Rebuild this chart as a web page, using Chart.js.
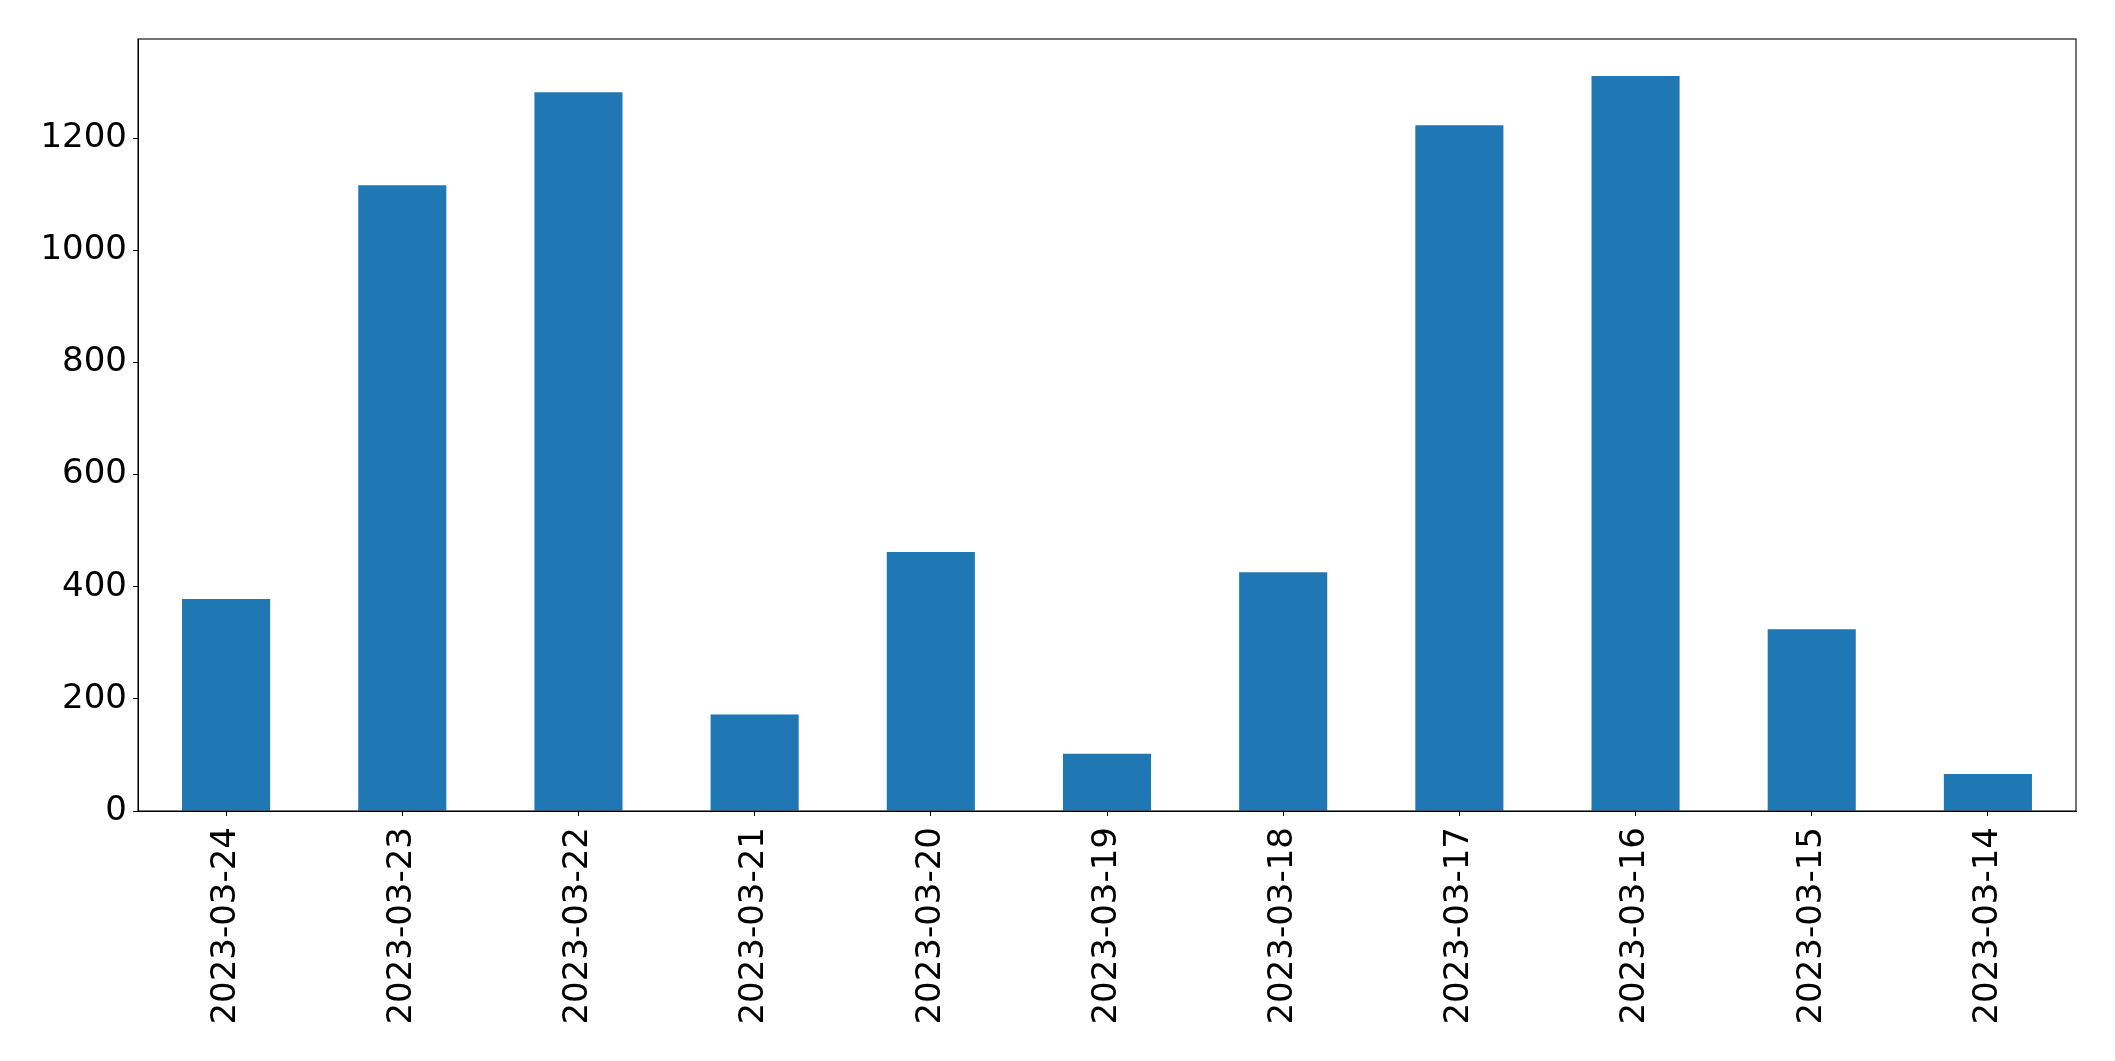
<!DOCTYPE html>
<html>
<head>
<meta charset="utf-8">
<script src="https://cdn.jsdelivr.net/npm/chart.js@4"></script>
<style>
  html, body { margin: 0; padding: 0; background: #fff; }
  #wrap { width: 2115px; height: 1061px; position: relative; }
</style>
</head>
<body>
<div id="wrap"><canvas id="grafico"></canvas></div>
<script>
  const dias = ['2023-03-24', '2023-03-23', '2023-03-22', '2023-03-21', '2023-03-20', '2023-03-19',
                '2023-03-18', '2023-03-17', '2023-03-16', '2023-03-15', '2023-03-14'];
  const valores = [378, 1116, 1282, 172, 462, 102, 426, 1223, 1311, 324, 66];
  const yTicks = [0, 200, 400, 600, 800, 1000, 1200];
  const yMax = 1377;

  // moldura completa em volta da area do grafico
  const moldura = {
    id: 'moldura',
    afterDraw(chart) {
      const a = chart.chartArea;
      const c = chart.ctx;
      c.save();
      c.strokeStyle = '#000';
      c.lineWidth = 1.1;
      c.strokeRect(a.left, a.top, a.right - a.left, a.bottom - a.top);
      c.restore();
    }
  };

  const fonte = { family: 'DejaVu Sans', size: 34 };

  const ctx = document.getElementById('grafico').getContext('2d');
  const grafico = new Chart(ctx, {
    type: 'bar',
    data: {
      labels: dias,
      datasets: [{
        data: valores,
        backgroundColor: '#1f77b4',
        borderWidth: 0,
        barPercentage: 0.5,
        categoryPercentage: 1.0
      }]
    },
    options: {
      responsive: true,
      maintainAspectRatio: false,
      animation: false,
      layout: { padding: { top: 39, right: 39, left: 0, bottom: 0 } },
      plugins: {
        legend: { display: false },
        tooltip: { enabled: false }
      },
      scales: {
        x: {
          grid: { display: true, offset: false, drawOnChartArea: false, drawTicks: true, tickLength: 5, color: '#000' },
          border: { display: true, color: '#000', width: 1 },
          ticks: {
            color: '#000',
            font: fonte,
            minRotation: 90,
            maxRotation: 90,
            autoSkip: false,
            padding: 11
          },
          afterFit(scale) { scale.height = 250; }
        },
        y: {
          min: 0,
          max: yMax,
          grid: { display: true, drawOnChartArea: false, drawTicks: true, tickLength: 5, color: '#000' },
          border: { display: true, color: '#000', width: 1 },
          ticks: {
            color: '#000',
            font: fonte,
            padding: 6,
            callback: (v) => String(v)
          },
          afterBuildTicks(scale) {
            scale.ticks = yTicks.map(v => ({ value: v }));
          },
          afterFit(scale) { scale.width = 138; }
        }
      }
    },
    plugins: [moldura]
  });
</script>
</body>
</html>
